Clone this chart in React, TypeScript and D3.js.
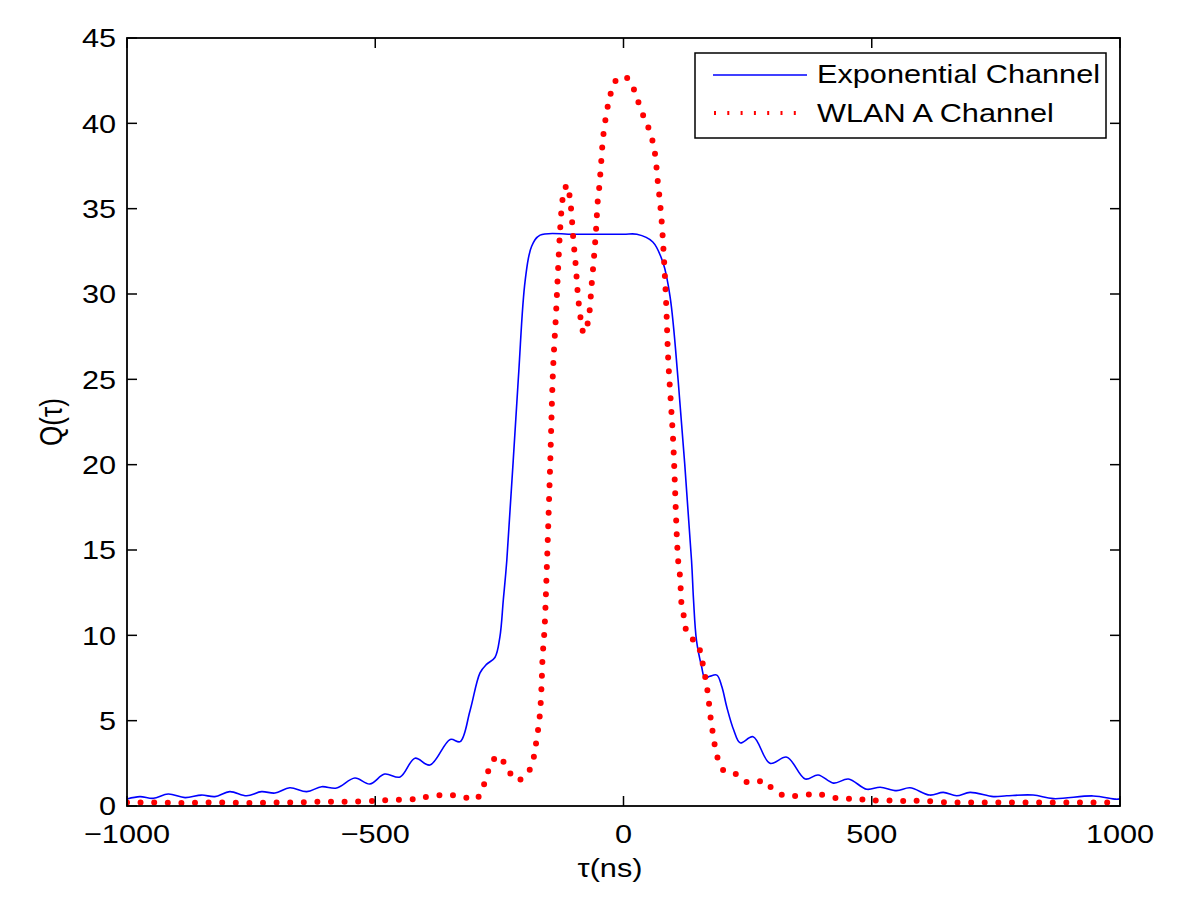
import React from "react";
import * as d3 from "d3";

// Exponential channel (blue solid)
const expTau = [-1000, -974, -947, -917, -883, -850, -823, -793, -759, -729, -702, -672, -638, -608, -578, -541, -511, -481, -450, -420, -390, -349, -329, -309, -289, -276, -259, -249, -242, -235, -212, -198, -185, -168, -100, 0, 27, 59, 80, 94, 110, 137, 141, 147, 157, 164, 174, 188, 198, 208, 222, 235, 261, 295, 329, 366, 392, 423, 453, 490, 517, 550, 577, 617, 644, 671, 698, 745, 772, 825, 866, 946, 992, 1000];
const expQ = [0.41, 0.55, 0.45, 0.7, 0.49, 0.64, 0.55, 0.84, 0.6, 0.84, 0.76, 1.07, 0.84, 1.13, 1.05, 1.64, 1.29, 1.87, 1.7, 2.8, 2.4, 3.9, 3.77, 5.6, 7.8, 8.3, 8.7, 9.9, 12.1, 14.4, 24.96, 30.8, 32.8, 33.45, 33.5, 33.5, 33.5, 33.05, 31.8, 29.8, 24.96, 14.4, 12.1, 9.7, 8.2, 7.5, 7.6, 7.67, 7.0, 5.8, 4.45, 3.7, 4.06, 2.5, 2.86, 1.58, 1.82, 1.34, 1.58, 0.98, 1.1, 0.9, 1.07, 0.64, 0.8, 0.6, 0.8, 0.55, 0.6, 0.64, 0.43, 0.59, 0.4, 0.42];

// WLAN A channel (red dotted)
const wlanTau = [-1000, -950, -900, -850, -800, -750, -700, -650, -600, -550, -500, -470, -418, -394, -368, -345, -319, -297, -284, -276, -267, -252, -236, -223, -215, -197, -184, -179, -175, -171, -168, -165, -163, -159, -155, -148, -142, -136, -132, -128, -124, -120, -113, -108, -105, -101, -96, -92, -86, -80, -75, -70, -64, -59, -55, -52, -49, -45, -41, -33, -27, -20, -10, 0, 10, 18, 27, 35, 45, 52, 59, 64, 69, 72, 77, 82, 86, 90, 95, 100, 110, 114, 117, 122, 126, 132, 140, 148, 156, 161, 166, 170, 176, 180, 184, 190, 201, 213, 225, 236, 248, 260, 272, 283, 302, 325, 350, 379, 395, 414, 441, 468, 491, 520, 560, 600, 650, 700, 750, 800, 850, 900, 950, 1000];
const wlanQ = [0.2, 0.2, 0.18, 0.2, 0.2, 0.18, 0.2, 0.22, 0.25, 0.25, 0.3, 0.35, 0.41, 0.55, 0.64, 0.63, 0.5, 0.4, 1.04, 1.7, 2.46, 2.95, 2.3, 1.7, 1.5, 1.78, 2.46, 3.16, 3.9, 4.7, 5.5, 7.1, 8.7, 10.4, 13.5, 19.7, 25.5, 28.8, 31.3, 33.6, 35.2, 36.0, 36.4, 35.6, 34.8, 33.2, 31.6, 30.0, 28.5, 27.7, 28.0, 28.6, 30.6, 32.3, 33.9, 35.4, 36.2, 37.7, 39.2, 40.8, 41.6, 42.3, 42.65, 42.75, 42.6, 42.2, 41.5, 40.8, 40.1, 39.6, 38.9, 38.1, 36.6, 35.8, 34.2, 31.8, 29.4, 26.2, 23.8, 21.4, 14.4, 13.4, 11.8, 11.05, 10.3, 9.9, 9.75, 9.6, 8.85, 8.1, 7.34, 6.56, 5.04, 4.26, 3.53, 2.77, 2.1, 1.95, 1.9, 1.6, 1.4, 1.37, 1.42, 1.5, 0.94, 0.6, 0.6, 0.68, 0.68, 0.55, 0.41, 0.45, 0.33, 0.33, 0.3, 0.3, 0.22, 0.2, 0.2, 0.2, 0.2, 0.2, 0.2, 0.2];

const xTicks = [-1000, -500, 0, 500, 1000];
const yTicks = [0, 5, 10, 15, 20, 25, 30, 35, 40, 45];
const legendNames = ["Exponential Channel", "WLAN A Channel"];

const W = 1200;
const H = 902;
const left = 127, right = 1120, top = 38, bottom = 806;
const font = "'Liberation Sans', Arial, Helvetica, sans-serif";
const FS = 26;
const SX = 1.18; // the original picture is stretched horizontally

// text stretched horizontally like the source image
function T({ x, y, anchor = "start", dy, rotate, children }: any) {
  const tr = `translate(${x},${y}) scale(${SX},1)` + (rotate ? ` rotate(${rotate})` : "");
  return (
    <text transform={tr} textAnchor={anchor} dy={dy} fontSize={FS}>{children}</text>
  );
}

export default function App() {
  const x = d3.scaleLinear().domain([-1000, 1000]).range([left, right]);
  const y = d3.scaleLinear().domain([0, 45]).range([bottom, top]);

  const line = d3.line<[number, number]>()
    .x(d => x(d[0]))
    .y(d => y(d[1]))
    .curve(d3.curveCatmullRom.alpha(0.5));

  const expPts = expTau.map((t, i) => [t, expQ[i]] as [number, number]);
  const wlanPts = wlanTau.map((t, i) => [t, wlanQ[i]] as [number, number]);

  const fmt = (v: number) => (v < 0 ? "\u2212" + Math.abs(v) : String(v));

  return (
    <svg width={W} height={H} style={{ position: "absolute", left: 0, top: 0, background: "#fff" }} fontFamily={font}>
      <defs>
        <clipPath id="plot">
          <rect x={left} y={top} width={right - left} height={bottom - top} />
        </clipPath>
      </defs>
      <rect x={0} y={0} width={W} height={H} fill="#fff" />

      <g clipPath="url(#plot)">
        <path d={line(expPts) || ""} fill="none" stroke="#0000ff" strokeWidth={1.6} />
        <path d={line(wlanPts) || ""} fill="none" stroke="#ff0000" strokeWidth={6}
          strokeLinecap="round" strokeDasharray="0 13.6" />
      </g>

      {/* ticks */}
      {xTicks.map(t => (
        <g key={"x" + t}>
          <line x1={x(t)} x2={x(t)} y1={bottom} y2={bottom - 10} stroke="#000" strokeWidth={1.5} />
          <line x1={x(t)} x2={x(t)} y1={top} y2={top + 10} stroke="#000" strokeWidth={1.5} />
          <T x={x(t)} y={843} anchor="middle">{fmt(t)}</T>
        </g>
      ))}
      {yTicks.map(t => (
        <g key={"y" + t}>
          <line x1={left} x2={left + 10} y1={y(t)} y2={y(t)} stroke="#000" strokeWidth={1.5} />
          <line x1={right} x2={right - 10} y1={y(t)} y2={y(t)} stroke="#000" strokeWidth={1.5} />
          <T x={116} y={y(t)} dy="0.36em" anchor="end">{t}</T>
        </g>
      ))}

      <rect x={left} y={top} width={right - left} height={bottom - top} fill="none" stroke="#000" strokeWidth={1.8} />

      {/* axis labels */}
      <T x={610} y={877} anchor="middle">τ(ns)</T>
      <T x={62} y={422} anchor="middle" rotate={-90}>Q(τ)</T>

      {/* legend */}
      <g>
        <rect x={695} y={53} width={411} height={85} fill="#fff" stroke="#000" strokeWidth={1.5} />
        <line x1={713} x2={807} y1={75} y2={75} stroke="#0000ff" strokeWidth={1.6} />
        <line x1={714} x2={807} y1={113} y2={113} stroke="#ff0000" strokeWidth={4}
          strokeDasharray="2 11.3" />
        <T x={817} y={83}>{legendNames[0]}</T>
        <T x={817} y={122}>{legendNames[1]}</T>
      </g>
    </svg>
  );
}
